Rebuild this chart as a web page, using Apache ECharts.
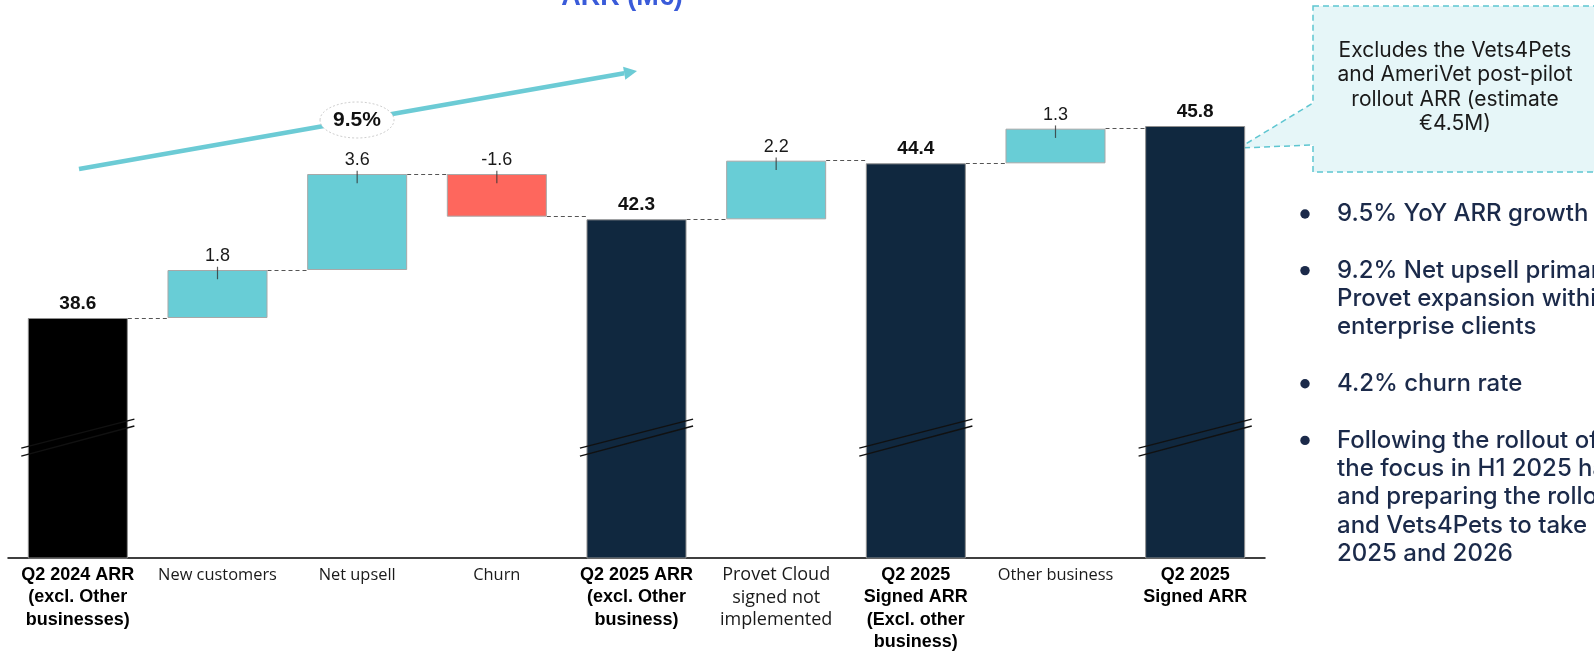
<!DOCTYPE html>
<html>
<head>
<meta charset="utf-8">
<title>ARR bridge</title>
<script src="https://cdn.jsdelivr.net/npm/echarts@6.0.0/dist/echarts.min.js"></script>
<style>
  html, body { margin: 0; padding: 0; background: #ffffff; }
  #chart { width: 1594px; height: 652px; }
</style>
</head>
<body>
<div id="chart"></div>
<script>
// ---- data -------------------------------------------------------------
const categories = [
  'Q2 2024 ARR\n(excl. Other\nbusinesses)',
  'New customers',
  'Net upsell',
  'Churn',
  'Q2 2025 ARR\n(excl. Other\nbusiness)',
  'Provet Cloud\nsigned not\nimplemented',
  'Q2 2025\nSigned ARR\n(Excl. other\nbusiness)',
  'Other business',
  'Q2 2025\nSigned ARR'
];
const totals  = [38.6, null, null, null, 42.3, null, 44.4, null, 45.8];
const changes = [null, 1.8, 3.6, -1.6, null, 2.2, null, 1.3, null];

const chartTitle = 'ARR (M€)';
const growthLabel = '9.5%';
const noteLines = [
  'Excludes the Vets4Pets',
  'and AmeriVet post-pilot',
  'rollout ARR (estimate',
  '€4.5M)'
];
const bulletItems = [
  ['9.5% YoY ARR growth'],
  ['9.2% Net upsell primarily', 'Provet expansion within', 'enterprise clients'],
  ['4.2% churn rate'],
  ['Following the rollout of', 'the focus in H1 2025 has', 'and preparing the rollout', 'and Vets4Pets to take', '2025 and 2026']
];

// ---- styling ----------------------------------------------------------
const CYAN = '#68cdd6';
const RED = '#fe675d';
const NAVY = '#10283f';
const BAR_RATIO = 0.716;           // bar width as share of a category band
const HALF = BAR_RATIO / 2;
const AXIS_MIN = 29.6;             // broken axis: bars start from here
const AXIS_MAX = 50;

// ---- waterfall layout from the data -----------------------------------
const baseVals = [], totVals = [], incVals = [], decVals = [];
const levels = [], tickPts = [];
let running = 0;
categories.forEach((c, i) => {
  if (totals[i] !== null) {
    running = totals[i];
    baseVals.push('-'); totVals.push(totals[i]); incVals.push('-'); decVals.push('-');
  } else {
    const d = changes[i];
    if (d >= 0) {
      baseVals.push(running); incVals.push(d); decVals.push('-'); totVals.push('-');
      running += d;
      tickPts.push([i, running]);
    } else {
      tickPts.push([i, running]);
      running += d;
      baseVals.push(running); decVals.push(-d); incVals.push('-'); totVals.push('-');
    }
  }
  levels.push(running);
});

// dashed connectors between neighbouring bars
const connectors = [];
for (let i = 0; i < categories.length - 1; i++) {
  connectors.push({ coords: [[i + HALF, levels[i]], [i + 1 - HALF, levels[i]]] });
}

// axis-break marks across each total bar
const BREAK_W = 0.405;
const breakMarks = [];
totals.forEach((t, i) => {
  if (t === null) return;
  breakMarks.push({ coords: [[i - BREAK_W, 33.42], [i + BREAK_W, 34.55]] });
  breakMarks.push({ coords: [[i - BREAK_W, 33.72], [i + BREAK_W, 34.81]] });
});

// category label rich text
function axisLabel(value, idx) {
  const lines = value.split('\n');
  let tag = 's';
  if (totals[idx] !== null) tag = 'b';
  else if (lines.length > 1) tag = 'm';
  return lines.map(l => '{' + tag + '|' + l + '}').join('\n');
}

// ---- annotations ------------------------------------------------------
const arrowStart = [79, 169], arrowTip = [637, 71];
const ax = arrowTip[0] - arrowStart[0], ay = arrowTip[1] - arrowStart[1];
const alen = Math.hypot(ax, ay), ux = ax / alen, uy = ay / alen;
const headLen = 13, headHalf = 6.5;
const hb = [arrowTip[0] - ux * headLen, arrowTip[1] - uy * headLen];

const BULLET_LH = 28.3, BULLET_TOP = 214;
const bulletText = [];
const bulletDots = [];
bulletItems.forEach((item, k) => {
  if (k > 0) bulletText.push('');
  bulletDots.push(bulletText.length);
  item.forEach(l => bulletText.push(l));
});

const graphics = [
  { type: 'text', x: 622, y: -2.5, style: { text: chartTitle, fill: '#3a5bd9',
      fontFamily: 'Liberation Sans', fontWeight: 'bold', fontSize: 27, align: 'center', verticalAlign: 'middle' } },
  { type: 'line', shape: { x1: arrowStart[0], y1: arrowStart[1], x2: hb[0], y2: hb[1] },
    style: { stroke: '#6ccbd5', lineWidth: 4.5 } },
  { type: 'polygon', shape: { points: [arrowTip,
      [hb[0] + uy * headHalf, hb[1] - ux * headHalf],
      [hb[0] - uy * headHalf, hb[1] + ux * headHalf]] },
    style: { fill: '#6ccbd5' } },
  { type: 'ellipse', shape: { cx: 357, cy: 120, rx: 37, ry: 18 },
    style: { fill: '#ffffff', stroke: '#cfcfcf', lineWidth: 1, lineDash: [2, 2] } },
  { type: 'text', x: 357, y: 120.5, style: { text: growthLabel, fill: '#111111',
      fontFamily: 'Liberation Sans', fontWeight: 'bold', fontSize: 21, align: 'center', verticalAlign: 'middle' } },
  { type: 'polygon', shape: { points: [[1313, 6], [1600, 6], [1600, 172], [1313, 172], [1313, 145], [1239, 148], [1313, 103]] },
    style: { fill: '#e6f6f8', stroke: '#5ec6d1', lineWidth: 1.5, lineDash: [6, 4] } },
  { type: 'text', x: 1455, y: 87, style: { text: noteLines.join('\n'), fill: '#1a1a1a',
      fontFamily: 'Inter', fontSize: 21, lineHeight: 24.5, align: 'center', verticalAlign: 'middle' } },
  { type: 'text', x: 1337, y: BULLET_TOP - BULLET_LH / 2, style: { text: bulletText.join('\n'), fill: '#1b2a4a',
      fontFamily: 'Inter', fontWeight: 500, fontSize: 24, lineHeight: BULLET_LH, align: 'left', verticalAlign: 'top' } }
];
bulletDots.forEach(k => {
  graphics.push({ type: 'circle', shape: { cx: 1305, cy: BULLET_TOP + k * BULLET_LH, r: 4.7 }, style: { fill: '#1b2a4a' } });
});

// ---- chart ------------------------------------------------------------
const chart = echarts.init(document.getElementById('chart'), null, { renderer: 'canvas' });
const barCommon = { type: 'bar', stack: 'w', barWidth: (BAR_RATIO * 100) + '%', xAxisIndex: 0, yAxisIndex: 0 };

chart.setOption({
  animation: false,
  backgroundColor: '#ffffff',
  grid: { left: 8, right: 329, top: 14, bottom: 94, containLabel: false },
  xAxis: [
    {
      type: 'category', data: categories,
      axisLine: { show: true, lineStyle: { color: '#000000', width: 1.5 } },
      axisTick: { show: false },
      axisLabel: {
        interval: 0, margin: 6, formatter: axisLabel,
        rich: {
          b: { fontFamily: 'Liberation Sans', fontWeight: 'bold', fontSize: 18, lineHeight: 22.3, color: '#000000' },
          s: { fontFamily: 'Open Sans', fontSize: 16.4, lineHeight: 22.3, color: '#1a1a1a' },
          m: { fontFamily: 'Open Sans', fontSize: 18, lineHeight: 22.5, color: '#1a1a1a' }
        }
      },
      splitLine: { show: false }
    },
    { type: 'value', min: -0.5, max: categories.length - 0.5, show: false }
  ],
  yAxis: { type: 'value', min: AXIS_MIN, max: AXIS_MAX, show: false, splitLine: { show: false } },
  series: [
    Object.assign({}, barCommon, { name: 'base', data: baseVals, silent: true,
      itemStyle: { color: 'rgba(0,0,0,0)', borderWidth: 0 } }),
    Object.assign({}, barCommon, { name: 'total', data: totVals,
      itemStyle: { color: p => (p.dataIndex === 0 ? '#000000' : NAVY), borderColor: '#8f8f8f', borderWidth: 1 },
      label: { show: true, position: 'top', distance: 5, fontFamily: 'Liberation Sans', fontWeight: 'bold',
        fontSize: 19, color: '#111111', formatter: p => totals[p.dataIndex].toFixed(1) } }),
    Object.assign({}, barCommon, { name: 'increase', data: incVals,
      itemStyle: { color: CYAN, borderColor: '#a8a8a8', borderWidth: 1 },
      label: { show: true, position: 'top', distance: 5, fontFamily: 'Liberation Sans',
        fontSize: 18, color: '#1a1a1a', formatter: p => changes[p.dataIndex].toFixed(1) } }),
    Object.assign({}, barCommon, { name: 'decrease', data: decVals,
      itemStyle: { color: RED, borderColor: '#a8a8a8', borderWidth: 1 },
      label: { show: true, position: 'top', distance: 5, fontFamily: 'Liberation Sans',
        fontSize: 18, color: '#1a1a1a', formatter: p => changes[p.dataIndex].toFixed(1) } }),
    {
      type: 'scatter', name: 'ticks', data: tickPts, xAxisIndex: 0, yAxisIndex: 0, z: 5,
      symbol: 'rect', symbolSize: [1.2, 12.5], symbolOffset: [0, 3], silent: true,
      itemStyle: { color: '#333333' }
    },
    {
      type: 'lines', name: 'connectors', coordinateSystem: 'cartesian2d', xAxisIndex: 1, yAxisIndex: 0,
      data: connectors, silent: true, z: 1,
      lineStyle: { color: '#555555', width: 1, type: [4, 3], opacity: 1 }
    },
    {
      type: 'lines', name: 'breaks', coordinateSystem: 'cartesian2d', xAxisIndex: 1, yAxisIndex: 0,
      data: breakMarks, silent: true, z: 6,
      lineStyle: { color: '#111111', width: 1.4, type: 'solid', opacity: 1 }
    }
  ],
  graphic: { elements: graphics }
});
</script>
</body>
</html>
